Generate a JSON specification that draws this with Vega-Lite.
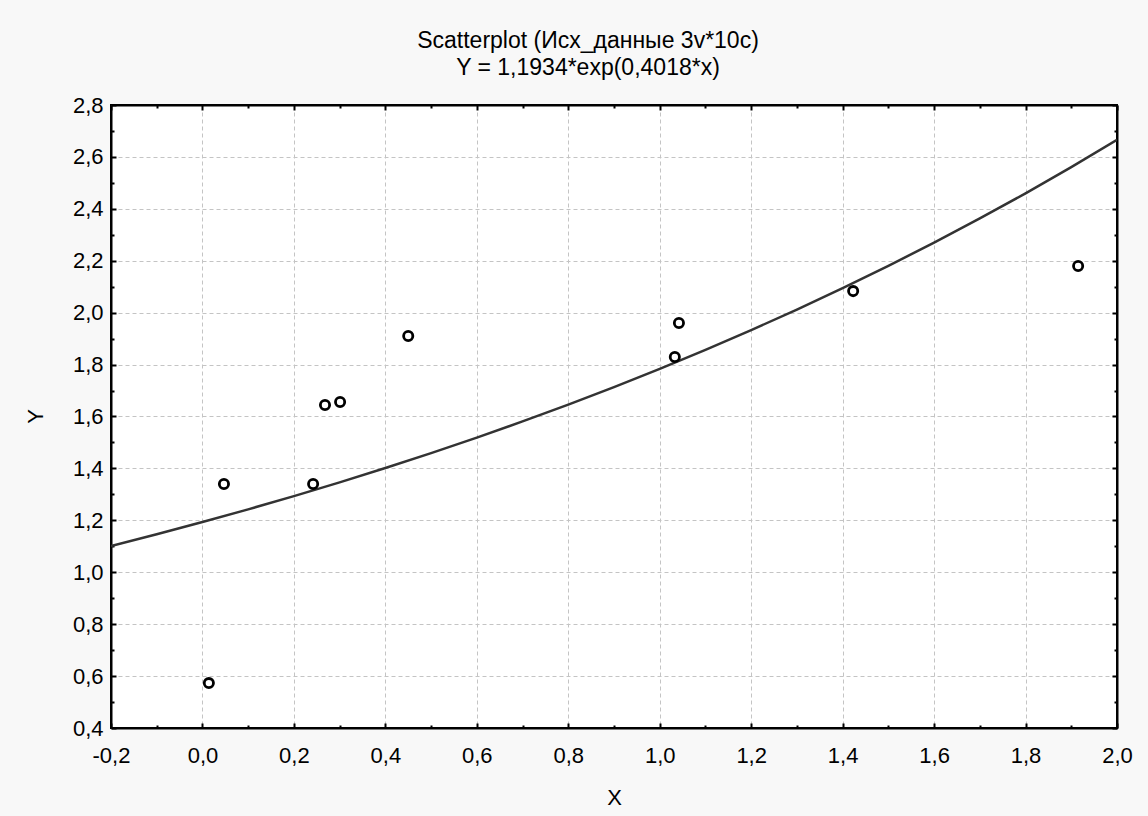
{
  "$schema": "https://vega.github.io/schema/vega-lite/v6.json",
  "width": 1006,
  "height": 623,
  "autosize": {"type": "none"},
  "padding": {"left": 111, "top": 105, "right": 31, "bottom": 88},
  "background": "#f8f8f8",
  "config": {
    "locale": {"number": {"decimal": ",", "thousands": " ", "grouping": [3], "currency": ["", ""], "minus": "-"}},
    "view": {"fill": "white", "stroke": "black", "strokeWidth": 2},
    "font": "Liberation Sans",
    "axis": {
      "labelFont": "Liberation Sans",
      "labelFontSize": 22,
      "labelColor": "black",
      "titleFont": "Liberation Sans",
      "titleFontSize": 22,
      "titleFontWeight": "normal",
      "titleColor": "black",
      "domainColor": "black",
      "domainWidth": 2,
      "tickColor": "black",
      "tickWidth": 2,
      "gridColor": "#c4c4c4",
      "gridDash": [4, 3],
      "gridWidth": 1,
      "labelFlush": false,
      "labelOverlap": false
    }
  },
  "title": {
    "text": ["Scatterplot (Исх_данные 3v*10c)", "Y = 1,1934*exp(0,4018*x)"],
    "font": "Liberation Sans",
    "fontSize": 23,
    "fontWeight": "normal",
    "color": "black",
    "lineHeight": 27,
    "anchor": "middle",
    "offset": 14,
    "dx": -26
  },
  "datasets": {
    "points": [
      {"x": 0.014, "y": 0.573},
      {"x": 0.047, "y": 1.340},
      {"x": 0.242, "y": 1.340},
      {"x": 0.268, "y": 1.644},
      {"x": 0.301, "y": 1.656},
      {"x": 0.450, "y": 1.910},
      {"x": 1.033, "y": 1.829},
      {"x": 1.042, "y": 1.960},
      {"x": 1.423, "y": 2.083},
      {"x": 1.915, "y": 2.180}
    ],
    "fit": [
      {"x": -0.2, "y": 1.1013},
      {"x": -0.1, "y": 1.1464},
      {"x": 0.0, "y": 1.1934},
      {"x": 0.1, "y": 1.2423},
      {"x": 0.2, "y": 1.2933},
      {"x": 0.3, "y": 1.3463},
      {"x": 0.4, "y": 1.4015},
      {"x": 0.5, "y": 1.4589},
      {"x": 0.6, "y": 1.5188},
      {"x": 0.7, "y": 1.5810},
      {"x": 0.8, "y": 1.6459},
      {"x": 0.9, "y": 1.7133},
      {"x": 1.0, "y": 1.7836},
      {"x": 1.1, "y": 1.8567},
      {"x": 1.2, "y": 1.9328},
      {"x": 1.3, "y": 2.0120},
      {"x": 1.4, "y": 2.0946},
      {"x": 1.5, "y": 2.1804},
      {"x": 1.6, "y": 2.2698},
      {"x": 1.7, "y": 2.3629},
      {"x": 1.8, "y": 2.4598},
      {"x": 1.9, "y": 2.5606},
      {"x": 2.0, "y": 2.6656}
    ]
  },
  "layer": [
    {
      "data": {"name": "fit"},
      "mark": {"type": "line", "color": "#333333", "strokeWidth": 2.5, "clip": true},
      "encoding": {
        "x": {
          "field": "x", "type": "quantitative",
          "scale": {"domain": [-0.2, 2.0], "nice": false, "zero": false},
          "axis": {
            "orient": "bottom",
            "values": [-0.2, -0.1, 0, 0.1, 0.2, 0.3, 0.4, 0.5, 0.6, 0.7, 0.8, 0.9, 1.0, 1.1, 1.2, 1.3, 1.4, 1.5, 1.6, 1.7, 1.8, 1.9, 2.0],
            "format": ".1f",
            "labelExpr": "abs(datum.value*5 - round(datum.value*5)) < 0.001 ? datum.label : ''",
            "tickSize": {"condition": {"test": "abs(datum.value*5 - round(datum.value*5)) < 0.001", "value": -5}, "value": -3},
            "gridOpacity": {"condition": {"test": "abs(datum.value*5 - round(datum.value*5)) < 0.001", "value": 1}, "value": 0},
            "grid": true,
            "labelPadding": 22,
            "title": "X",
            "titleX": 503,
            "titleY": 69,
            "titleAlign": "center",
            "titleBaseline": "middle"
          }
        },
        "y": {
          "field": "y", "type": "quantitative",
          "scale": {"domain": [0.4, 2.8], "nice": false, "zero": false},
          "axis": {
            "orient": "left",
            "values": [0.4, 0.5, 0.6, 0.7, 0.8, 0.9, 1.0, 1.1, 1.2, 1.3, 1.4, 1.5, 1.6, 1.7, 1.8, 1.9, 2.0, 2.1, 2.2, 2.3, 2.4, 2.5, 2.6, 2.7, 2.8],
            "format": ".1f",
            "labelExpr": "abs(datum.value*5 - round(datum.value*5)) < 0.001 ? datum.label : ''",
            "tickSize": {"condition": {"test": "abs(datum.value*5 - round(datum.value*5)) < 0.001", "value": -5}, "value": -3},
            "gridOpacity": {"condition": {"test": "abs(datum.value*5 - round(datum.value*5)) < 0.001", "value": 1}, "value": 0},
            "grid": true,
            "labelPadding": 13,
            "title": "Y",
            "titleAngle": -90,
            "titleX": -76,
            "titleY": 311,
            "titleAlign": "center",
            "titleBaseline": "middle"
          }
        }
      }
    },
    {
      "data": {"name": "points"},
      "mark": {"type": "point", "shape": "circle", "filled": false, "stroke": "black", "strokeWidth": 2.8, "size": 85, "opacity": 1},
      "encoding": {
        "x": {
          "field": "x", "type": "quantitative",
          "scale": {"domain": [-0.2, 2.0], "nice": false, "zero": false},
          "axis": {
            "orient": "top",
            "values": [-0.2, -0.1, 0, 0.1, 0.2, 0.3, 0.4, 0.5, 0.6, 0.7, 0.8, 0.9, 1.0, 1.1, 1.2, 1.3, 1.4, 1.5, 1.6, 1.7, 1.8, 1.9, 2.0],
            "labels": false,
            "grid": false,
            "tickSize": {"condition": {"test": "abs(datum.value*5 - round(datum.value*5)) < 0.001", "value": -5}, "value": -3},
            "title": null
          }
        },
        "y": {
          "field": "y", "type": "quantitative",
          "scale": {"domain": [0.4, 2.8], "nice": false, "zero": false},
          "axis": {
            "orient": "right",
            "values": [0.4, 0.5, 0.6, 0.7, 0.8, 0.9, 1.0, 1.1, 1.2, 1.3, 1.4, 1.5, 1.6, 1.7, 1.8, 1.9, 2.0, 2.1, 2.2, 2.3, 2.4, 2.5, 2.6, 2.7, 2.8],
            "labels": false,
            "grid": false,
            "tickSize": {"condition": {"test": "abs(datum.value*5 - round(datum.value*5)) < 0.001", "value": -5}, "value": -3},
            "title": null
          }
        }
      }
    }
  ],
  "resolve": {"axis": {"x": "independent", "y": "independent"}}
}
